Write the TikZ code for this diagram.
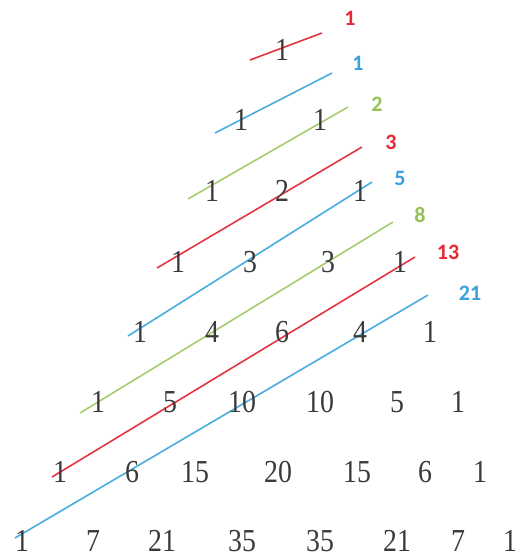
\documentclass[tikz,border=0pt]{standalone}
\usepackage{fontspec}
\newfontfamily\numfont[FakeStretch=0.87]{Liberation Serif}
\newfontfamily\labfont{Carlito}
\definecolor{lred}{RGB}{228,52,64}
\definecolor{lblue}{RGB}{72,172,222}
\definecolor{lgreen}{RGB}{166,204,112}
\definecolor{tred}{RGB}{232,40,52}
\definecolor{tblue}{RGB}{58,160,222}
\definecolor{tgreen}{RGB}{150,192,84}
\definecolor{numgray}{RGB}{58,58,58}
\tikzset{
  num/.style={inner sep=0pt, text=numgray, font=\numfont\fontsize{32}{32}\selectfont},
  fib/.style={inner sep=0pt, font=\labfont\bfseries\fontsize{22}{22}\selectfont},
  diag/.style={line width=1.6pt, line cap=butt}
}
\begin{document}
\begin{tikzpicture}[x=1pt,y=-1pt]
\useasboundingbox (0,0) rectangle (528,558);
% diagonal lines
\coordinate (a0) at (250,60);  \coordinate (b0) at (322,33);
\coordinate (a1) at (215,133); \coordinate (b1) at (332,73);
\coordinate (a2) at (188,199); \coordinate (b2) at (348,107);
\coordinate (a3) at (157,268); \coordinate (b3) at (362,147);
\coordinate (a4) at (128,336); \coordinate (b4) at (372,182);
\coordinate (a5) at (80,413);  \coordinate (b5) at (393,222);
\coordinate (a6) at (52,477);  \coordinate (b6) at (415,257);
\coordinate (a7) at (15,538);  \coordinate (b7) at (428,295);
\draw[diag,lred]   (a0) -- (b0);
\draw[diag,lblue]  (a1) -- (b1);
\draw[diag,lgreen] (a2) -- (b2);
\draw[diag,lred]   (a3) -- (b3);
\draw[diag,lblue]  (a4) -- (b4);
\draw[diag,lgreen] (a5) -- (b5);
\draw[diag,lred]   (a6) -- (b6);
\draw[diag,lblue]  (a7) -- (b7);
% Pascal numbers
\node[num] (r0k0) at (282,50) {1};
\node[num] (r1k0) at (241,120) {1};
\node[num] (r1k1) at (320,120) {1};
\node[num] (r2k0) at (212,191) {1};
\node[num] (r2k1) at (282,191) {2};
\node[num] (r2k2) at (360,191) {1};
\node[num] (r3k0) at (178,262) {1};
\node[num] (r3k1) at (250,262) {3};
\node[num] (r3k2) at (328,262) {3};
\node[num] (r3k3) at (400,262) {1};
\node[num] (r4k0) at (140,332) {1};
\node[num] (r4k1) at (212,332) {4};
\node[num] (r4k2) at (282,332) {6};
\node[num] (r4k3) at (360,332) {4};
\node[num] (r4k4) at (430,332) {1};
\node[num] (r5k0) at (98,402) {1};
\node[num] (r5k1) at (170,402) {5};
\node[num] (r5k2) at (242,402) {10};
\node[num] (r5k3) at (320,402) {10};
\node[num] (r5k4) at (397,402) {5};
\node[num] (r5k5) at (458,402) {1};
\node[num] (r6k0) at (60,472) {1};
\node[num] (r6k1) at (132,472) {6};
\node[num] (r6k2) at (195,472) {15};
\node[num] (r6k3) at (278,472) {20};
\node[num] (r6k4) at (357,472) {15};
\node[num] (r6k5) at (425,472) {6};
\node[num] (r6k6) at (480,472) {1};
\node[num] (r7k0) at (22,541) {1};
\node[num] (r7k1) at (93,541) {7};
\node[num] (r7k2) at (162,541) {21};
\node[num] (r7k3) at (242,541) {35};
\node[num] (r7k4) at (320,541) {35};
\node[num] (r7k5) at (397,541) {21};
\node[num] (r7k6) at (458,541) {7};
\node[num] (r7k7) at (510,541) {1};
% Fibonacci labels
\node[fib,text=tred]   (f0) at (350,18)  {1};
\node[fib,text=tblue]  (f1) at (358,63)  {1};
\node[fib,text=tgreen] (f2) at (377,104) {2};
\node[fib,text=tred]   (f3) at (391,142) {3};
\node[fib,text=tblue]  (f4) at (400,178) {5};
\node[fib,text=tgreen] (f5) at (420,215) {8};
\node[fib,text=tred]   (f6) at (448,252) {13};
\node[fib,text=tblue]  (f7) at (470,293) {21};
\end{tikzpicture}
\end{document}
